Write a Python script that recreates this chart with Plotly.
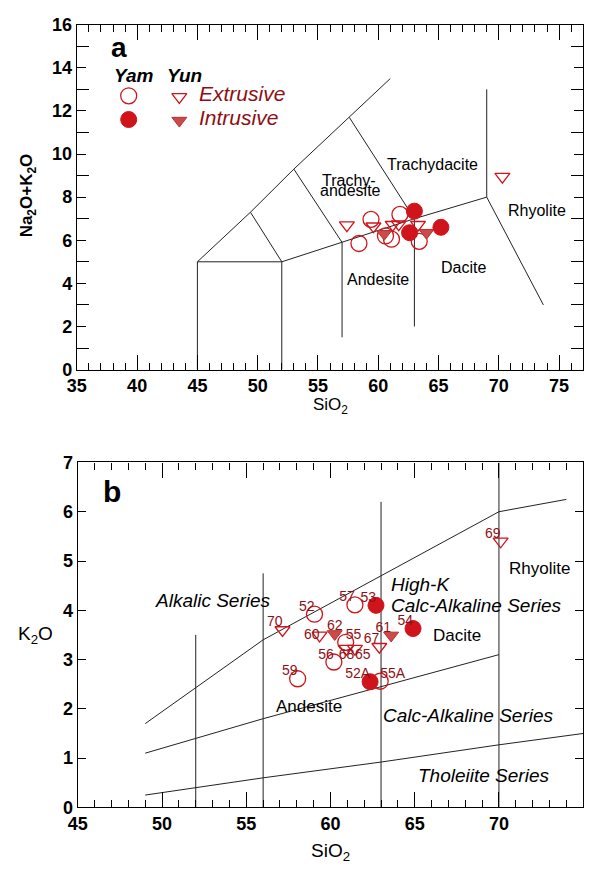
import plotly.graph_objects as go

# ---------------- Panel a: TAS (Na2O+K2O vs SiO2) ----------------
a_yam_ext_si = [58.4, 59.4, 60.6, 61.1, 61.8, 63.4]
a_yam_ext_alk = [5.85, 6.97, 6.2, 6.05, 7.2, 5.95]
a_yam_int_si = [62.6, 63.0, 65.2]
a_yam_int_alk = [6.35, 7.35, 6.6]
a_yun_ext_si = [57.4, 59.6, 61.2, 61.7, 63.3, 70.3]
a_yun_ext_alk = [6.7, 6.65, 6.72, 6.75, 6.72, 8.95]
a_yun_int_si = [60.5, 64.0]
a_yun_int_alk = [6.3, 6.35]

# TAS field boundaries (polylines)
tas_lines = [
    [(45, 0), (45, 5), (52, 5), (52, 0)],
    [(45, 5), (49.4, 7.3), (53, 9.3), (57.6, 11.7), (61, 13.5)],
    [(52, 5), (57, 5.9), (63, 7), (69, 8)],
    [(49.4, 7.3), (52, 5)],
    [(53, 9.3), (57, 5.9)],
    [(57.6, 11.7), (63, 7)],
    [(57, 1.5), (57, 5.9)],
    [(63, 2), (63, 7)],
    [(69, 13), (69, 8), (73.7, 3)],
]
tas_labels = ["Trachydacite", "Trachy-", "andesite", "Rhyolite", "Dacite", "Andesite"]
tas_label_x = [64.5, 57.6, 57.7, 73.2, 67.1, 60.0]
tas_label_y = [9.5, 8.78, 8.3, 7.4, 4.75, 4.2]

# ---------------- Panel b: K2O vs SiO2 ----------------
b_samples = ["52", "55", "55A", "56", "57", "59",
             "53", "54", "52A",
             "60", "65", "67", "68", "69", "70",
             "61", "62"]
b_si = [59.05, 60.9, 62.95, 60.2, 61.45, 58.05,
        62.7, 64.9, 62.35,
        59.35, 61.45, 62.9, 60.95, 70.1, 57.15,
        63.6, 60.25]
b_k2o = [3.92, 3.35, 2.56, 2.95, 4.11, 2.61,
         4.1, 3.63, 2.55,
         3.49, 3.22, 3.26, 3.22, 5.4, 3.6,
         3.49, 3.52]
b_group = ["yam_ext"] * 6 + ["yam_int"] * 3 + ["yun_ext"] * 6 + ["yun_int"] * 2

b_lines = [
    [(49, 1.7), (56, 3.4), (63, 4.7), (70, 6.0), (74, 6.25)],
    [(49, 1.1), (56, 1.8), (63, 2.45), (70, 3.1)],
    [(49, 0.25), (56, 0.6), (63, 0.92), (70, 1.27), (75, 1.5)],
    [(52, 0), (52, 3.5)],
    [(56, 0), (56, 4.75)],
    [(63, 0), (63, 6.2)],
    [(70, 0), (70, 7)],
]
b_field_labels = ["Alkalic Series", "High-K", "Calc-Alkaline Series", "Dacite",
                  "Rhyolite", "Andesite", "Calc-Alkaline Series", "Tholeiite Series"]

# ---------------- styles ----------------
FONT = "Liberation Sans, Arial, sans-serif"
RED = "#d0141c"
RED_TRI = "#cc4a4a"
RED_TXT = "#8e0f14"
LINE = "#222222"

label_pos = {"52": "top left", "55": "top right", "55A": "top right", "56": "top left",
             "57": "top left", "59": "top left", "53": "top left", "54": "top left",
             "52A": "top left", "60": "middle left", "65": "bottom right",
             "67": "top left", "68": "bottom center", "69": "top left", "70": "top left",
             "61": "top left", "62": "top center"}

marker_style = {
    "yam_ext": dict(symbol="circle-open", size=16, color=RED, line=dict(width=1.3, color=RED)),
    "yam_int": dict(symbol="circle", size=16, color=RED, line=dict(width=1, color=RED)),
    "yun_ext": dict(symbol="triangle-down-open", size=13, color=RED, line=dict(width=1.3, color=RED)),
    "yun_int": dict(symbol="triangle-down", size=13, color=RED_TRI, line=dict(width=1, color="#b83030")),
}

fig = go.Figure()


def add_lines(segs, xa, ya):
    xs, ys = [], []
    for seg in segs:
        for p in seg:
            xs.append(p[0])
            ys.append(p[1])
        xs.append(None)
        ys.append(None)
    fig.add_trace(go.Scatter(x=xs, y=ys, mode="lines", line=dict(color=LINE, width=1),
                             xaxis=xa, yaxis=ya, hoverinfo="skip", showlegend=False))


add_lines(tas_lines, "x", "y")
add_lines(b_lines, "x2", "y2")

# panel a points
for gx, gy, key in [(a_yam_ext_si, a_yam_ext_alk, "yam_ext"),
                    (a_yun_ext_si, a_yun_ext_alk, "yun_ext"),
                    (a_yun_int_si, a_yun_int_alk, "yun_int"),
                    (a_yam_int_si, a_yam_int_alk, "yam_int")]:
    fig.add_trace(go.Scatter(x=gx, y=gy, mode="markers", marker=marker_style[key],
                             xaxis="x", yaxis="y", showlegend=False))

# panel b points
for key in ["yam_ext", "yun_ext", "yun_int", "yam_int"]:
    idx = [i for i, g in enumerate(b_group) if g == key]
    fig.add_trace(go.Scatter(x=[b_si[i] for i in idx], y=[b_k2o[i] for i in idx],
                             mode="markers", marker=marker_style[key],
                             xaxis="x2", yaxis="y2", showlegend=False))
fig.add_trace(go.Scatter(x=b_si, y=b_k2o, mode="text", text=b_samples,
                         textposition=[label_pos[s] for s in b_samples],
                         textfont=dict(family=FONT, size=14, color=RED_TXT),
                         xaxis="x2", yaxis="y2", showlegend=False, hoverinfo="skip"))

# legend markers (panel a)
fig.add_trace(go.Scatter(x=[39.3], y=[12.7], mode="markers", marker=marker_style["yam_ext"],
                         xaxis="x", yaxis="y", showlegend=False))
fig.add_trace(go.Scatter(x=[39.3], y=[11.6], mode="markers", marker=marker_style["yam_int"],
                         xaxis="x", yaxis="y", showlegend=False))
fig.add_trace(go.Scatter(x=[43.5], y=[12.65], mode="markers", marker=marker_style["yun_ext"],
                         xaxis="x", yaxis="y", showlegend=False))
fig.add_trace(go.Scatter(x=[43.5], y=[11.55], mode="markers", marker=marker_style["yun_int"],
                         xaxis="x", yaxis="y", showlegend=False))

ann = []
# TAS field labels
for t, x, y in zip(tas_labels, tas_label_x, tas_label_y):
    ann.append(dict(x=x, y=y, xref="x", yref="y", text=t, showarrow=False,
                    font=dict(family=FONT, size=16, color="black")))
# legend text
ann += [
    dict(x=39.7, y=13.65, xref="x", yref="y", text="<b><i>Yam</i></b>", showarrow=False,
         font=dict(family=FONT, size=19, color="black")),
    dict(x=43.9, y=13.65, xref="x", yref="y", text="<b><i>Yun</i></b>", showarrow=False,
         font=dict(family=FONT, size=19, color="black")),
    dict(x=45.0, y=12.8, xref="x", yref="y", text="<i>Extrusive</i>", showarrow=False,
         xanchor="left", font=dict(family=FONT, size=21, color=RED_TXT)),
    dict(x=45.0, y=11.7, xref="x", yref="y", text="<i>Intrusive</i>", showarrow=False,
         xanchor="left", font=dict(family=FONT, size=21, color=RED_TXT)),
    dict(x=38.5, y=14.95, xref="x", yref="y", text="<b>a</b>", showarrow=False,
         font=dict(family=FONT, size=28, color="black")),
]
# panel b field labels
b_lab_x = [53.0, 63.45, 63.45, 67.5, 72.4, 58.7, 68.2, 69.1]
b_lab_y = [4.2, 4.52, 4.09, 3.49, 4.85, 2.05, 1.87, 0.64]
b_lab_anchor = ["center", "left", "left", "center", "center", "center", "center", "center"]
b_lab_italic = [True, True, True, False, False, False, True, True]
for t, x, y, an, it in zip(b_field_labels, b_lab_x, b_lab_y, b_lab_anchor, b_lab_italic):
    ann.append(dict(x=x, y=y, xref="x2", yref="y2", text=(f"<i>{t}</i>" if it else t),
                    showarrow=False, xanchor=an,
                    font=dict(family=FONT, size=(19 if it else 17), color="black")))
ann.append(dict(x=47.0, y=6.42, xref="x2", yref="y2", text="<b>b</b>", showarrow=False,
                font=dict(family=FONT, size=30, color="black")))

# axis titles
ann += [
    dict(x=18 / 593, y=1 - 190 / 877, xref="paper", yref="paper", textangle=-90,
         xanchor="center", yanchor="middle",
         text="<b>Na<sub>2</sub>O+K<sub>2</sub>O</b>", showarrow=False,
         font=dict(family=FONT, size=17, color="black")),
    dict(x=326 / 593, y=1 - 405 / 877, xref="paper", yref="paper",
         xanchor="center", yanchor="middle",
         text="SiO<sub>2</sub>", showarrow=False, font=dict(family=FONT, size=17, color="black")),
    dict(x=26 / 593, y=1 - 640 / 877, xref="paper", yref="paper",
         xanchor="center", yanchor="middle",
         text="K<sub>2</sub>O", showarrow=False, font=dict(family=FONT, size=19, color="black")),
    dict(x=326 / 593, y=1 - 862 / 877, xref="paper", yref="paper",
         xanchor="center", yanchor="middle",
         text="SiO<sub>2</sub>", showarrow=False, font=dict(family=FONT, size=19, color="black")),
]

tickfont = dict(family=FONT, size=18, color="black", weight="bold")
common = dict(showgrid=False, zeroline=False, showline=True, linecolor="black", linewidth=1.2,
              mirror="ticks", ticks="inside", tickcolor="black", tickwidth=1, tickfont=tickfont)

fig.update_layout(
    width=593, height=877, margin=dict(l=0, r=0, t=0, b=0),
    paper_bgcolor="white", plot_bgcolor="white", showlegend=False,
    xaxis=dict(domain=[68 / 593, 583 / 593], range=[35, 77], anchor="y",
               tickmode="linear", tick0=35, dtick=5, ticklen=15,
               minor=dict(dtick=1, ticks="inside", ticklen=7, tickcolor="black"), **common),
    yaxis=dict(domain=[1 - 368 / 877, 1 - 15 / 877], range=[0, 16], anchor="x",
               tickmode="linear", tick0=0, dtick=2, ticklen=9,
               minor=dict(dtick=1, ticks="inside", ticklen=12, tickcolor="black"), **common),
    xaxis2=dict(domain=[69 / 593, 583 / 593], range=[45, 75], anchor="y2",
                tickmode="linear", tick0=45, dtick=5, ticklen=15,
                minor=dict(dtick=1, ticks="inside", ticklen=7, tickcolor="black"), **common),
    yaxis2=dict(domain=[1 - 816 / 877, 1 - 463 / 877], range=[0, 7], anchor="x2",
                tickmode="linear", tick0=0, dtick=1, ticklen=8, **common),
    annotations=ann,
)

fig.write_html("out.html")
